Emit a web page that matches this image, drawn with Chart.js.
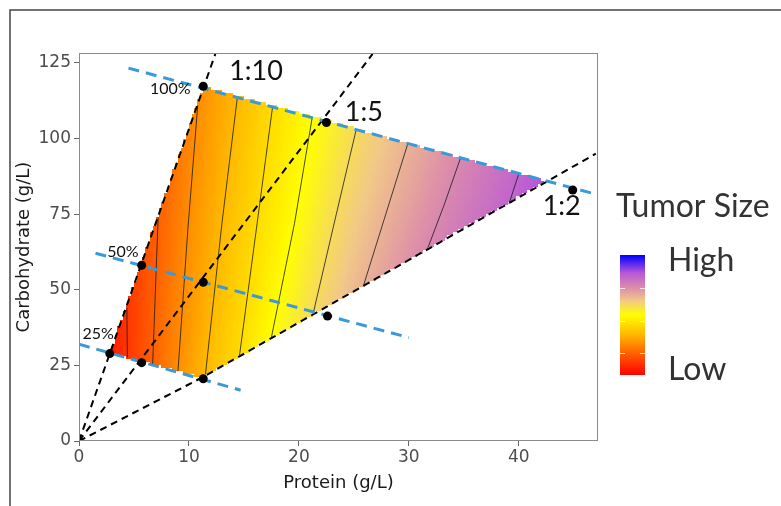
<!DOCTYPE html>
<html>
<head>
<meta charset="utf-8">
<script src="https://cdn.jsdelivr.net/npm/chart.js@4.4.1/dist/chart.umd.min.js"></script>
<style>
  html, body { margin: 0; padding: 0; background: #fff; }
</style>
</head>
<body>
<canvas id="chart" width="781" height="506"></canvas>
<script>
// axis ticks
const xTicks = [0, 10, 20, 30, 40];
const yTicks = [0, 25, 50, 75, 100, 125];

// ratio guide lines from the origin (black dashed)
const ratioNames = ['1:10', '1:5', '1:2'];
const ratioProtein = [[0, 12.4], [0, 26.7], [0, 11.2, 47]];
const ratioCarb = [[0, 128], [0, 128], [0, 21, 95]];
const ratioLabelProtein = [16.1, 25.9, 43.9];
const ratioLabelCarb = [122.3, 108.8, 77.6];

// energy lines (blue dashed)
const energyNames = ['25%', '50%', '100%'];
const energyProtein = [[0, 14.7], [1.5, 30], [4.5, 47.2]];
const energyCarb = [[32, 16.8], [62.1, 34.2], [123.3, 81.4]];
const energyLabelProtein = [1.75, 4.0, 8.3];
const energyLabelCarb = [35.5, 62.7, 116.6];

// diet points
const pointProtein = [0, 2.8, 5.7, 11.3, 5.7, 11.3, 22.6, 11.3, 22.5, 44.9];
const pointCarb = [0, 28.9, 25.9, 20.6, 58.1, 52.5, 41.3, 117.3, 105.3, 83.0];

// area covered by the fitted surface
const regionProtein = [2.8, 11.3, 42.5, 11.2];
const regionCarb = [29, 117.3, 86, 20.8];

// contour lines of tumor size (top to bottom), level on a 0..1 scale
const contourLevel = [0.10, 0.18, 0.26, 0.34, 0.42, 0.50, 0.58, 0.66, 0.74, 0.82];
const contourProtein = [
  [4.35, 4.4], [7.2, 6.95, 6.7], [10.8, 9.9, 9.0], [14.4, 13.0, 11.5], [17.6, 16.2, 14.6],
  [21.2, 19.6, 17.5], [25.2, 23.4, 21.3], [29.9, 27.9, 25.9], [34.7, 33.2, 31.7], [40.0, 39.1]
];
const contourCarb = [
  [44, 27.6], [74, 50, 25.3], [111, 70, 23.1], [113.6, 72, 22], [110.4, 72, 28.4],
  [106.8, 72, 34.3], [102.8, 75, 42.2], [98.3, 75, 51.7], [93.6, 78, 63.6], [88.4, 78.4]
];

// colour scale (Low -> High)
const colorStops = [0, 0.18, 0.33, 0.5, 0.62, 0.72, 0.85, 1];
const colorHex = ['#ff0000', '#ff6000', '#ffb400', '#ffff00', '#f2c888', '#de90a8', '#b858d8', '#0000ff'];

function hexRgb(h) {
  return [parseInt(h.slice(1, 3), 16), parseInt(h.slice(3, 5), 16), parseInt(h.slice(5, 7), 16)];
}
const stopRgb = colorHex.map(hexRgb);

function sizeColor(v) {
  v = Math.max(0, Math.min(1, v));
  let i = 0;
  while (i < colorStops.length - 2 && v > colorStops[i + 1]) i++;
  const t = (v - colorStops[i]) / (colorStops[i + 1] - colorStops[i]);
  const a = stopRgb[i], b = stopRgb[i + 1];
  return 'rgb(' + a.map((c, j) => Math.round(c + t * (b[j] - c))).join(',') + ')';
}

function contourXAt(k, c) {
  const xs = contourProtein[k], ys = contourCarb[k];
  let i = 0;
  for (i = 0; i < ys.length - 2; i++) if (c >= ys[i + 1]) break;
  const t = (c - ys[i]) / (ys[i + 1] - ys[i]);
  return xs[i] + t * (xs[i + 1] - xs[i]);
}

function sizeAt(p, c) {
  const xs = contourLevel.map((_, k) => contourXAt(k, c));
  const L = contourLevel, n = xs.length;
  if (p <= xs[0]) return L[0] - (xs[0] - p) / (xs[1] - xs[0]) * (L[1] - L[0]);
  for (let k = 0; k < n - 1; k++) {
    if (p <= xs[k + 1]) return L[k] + (p - xs[k]) / (xs[k + 1] - xs[k]) * (L[k + 1] - L[k]);
  }
  return L[n - 1] + (p - xs[n - 1]) / (xs[n - 1] - xs[n - 2]) * (L[n - 1] - L[n - 2]);
}

function inRegion(p, c) {
  let inside = false;
  for (let i = 0, j = regionProtein.length - 1; i < regionProtein.length; j = i++) {
    const xi = regionProtein[i], yi = regionCarb[i], xj = regionProtein[j], yj = regionCarb[j];
    if ((yi > c) !== (yj > c) && p < (xj - xi) * (c - yi) / (yj - yi) + xi) inside = !inside;
  }
  return inside;
}

const toXY = (xs, ys) => xs.map((x, i) => ({ x: x, y: ys[i] }));

const datasets = [];
datasets.push({
  data: toXY(pointProtein, pointCarb),
  showLine: false,
  pointRadius: ctx => ctx.dataIndex === 0 ? 2.5 : 4.5,
  pointBackgroundColor: '#000',
  pointBorderWidth: 0,
  order: 0
});
energyProtein.forEach((xs, i) => datasets.push({
  data: toXY(xs, energyCarb[i]),
  showLine: true, pointRadius: 0,
  borderColor: '#3a9ad9', borderWidth: 3, borderDash: [11, 7],
  order: 1
}));
ratioProtein.forEach((xs, i) => datasets.push({
  data: toXY(xs, ratioCarb[i]),
  showLine: true, pointRadius: 0,
  borderColor: '#000', borderWidth: 2, borderDash: [7, 5],
  order: 2
}));
contourProtein.forEach((xs, i) => datasets.push({
  data: toXY(xs, contourCarb[i]),
  showLine: true, pointRadius: 0,
  borderColor: '#1a1a1a', borderWidth: 0.8,
  order: 3
}));

const heatPlugin = {
  id: 'heat',
  beforeDatasetsDraw(chart) {
    const { ctx, chartArea: a, scales: { x, y } } = chart;
    ctx.save();
    ctx.beginPath();
    ctx.rect(a.left, a.top, a.right - a.left, a.bottom - a.top);
    ctx.clip();
    const dp = 0.25, dc = 1;
    for (let p = 2.5; p < 43; p += dp) {
      for (let c = 20; c < 118; c += dc) {
        if (!inRegion(p + dp / 2, c + dc / 2)) continue;
        const x0 = Math.round(x.getPixelForValue(p)), x1 = Math.round(x.getPixelForValue(p + dp));
        const y0 = Math.round(y.getPixelForValue(c + dc)), y1 = Math.round(y.getPixelForValue(c));
        ctx.fillStyle = sizeColor(sizeAt(p + dp / 2, c + dc / 2));
        ctx.fillRect(x0, y0, x1 - x0, y1 - y0);
      }
    }
    ctx.restore();
  }
};

const labelPlugin = {
  id: 'labels',
  afterDatasetsDraw(chart) {
    const { ctx, scales: { x, y } } = chart;
    ctx.save();
    ctx.fillStyle = '#111';
    ctx.textBaseline = 'middle';
    ctx.textAlign = 'center';
    ctx.font = '27px Lato';
    ratioNames.forEach((t, i) => ctx.fillText(t, x.getPixelForValue(ratioLabelProtein[i]), y.getPixelForValue(ratioLabelCarb[i])));
    ctx.font = '16px Lato';
    energyNames.forEach((t, i) => ctx.fillText(t, x.getPixelForValue(energyLabelProtein[i]), y.getPixelForValue(energyLabelCarb[i])));
    ctx.restore();
  },
  afterDraw(chart) {
    const { ctx, chartArea: a } = chart;
    ctx.save();
    // panel border
    ctx.strokeStyle = '#8a8a8a';
    ctx.lineWidth = 1;
    ctx.strokeRect(a.left + 0.5, a.top + 0.5, a.right - a.left - 1, a.bottom - a.top - 1);
    // outer frame
    ctx.strokeStyle = '#444';
    ctx.lineWidth = 1.5;
    ctx.beginPath();
    ctx.moveTo(10, 506);
    ctx.lineTo(10, 10);
    ctx.lineTo(781, 10);
    ctx.stroke();
    // colour bar legend
    const bx = 620, bw = 25, top = 255, bottom = 375;
    const g = ctx.createLinearGradient(0, bottom, 0, top);
    colorStops.forEach((s, i) => g.addColorStop(s, colorHex[i]));
    ctx.fillStyle = g;
    ctx.fillRect(bx, top, bw, bottom - top);
    ctx.strokeStyle = 'rgba(255,255,255,0.8)';
    ctx.lineWidth = 1;
    [0.18, 0.45, 0.725].forEach(t => {
      const yy = Math.round(bottom - t * (bottom - top)) + 0.5;
      ctx.beginPath();
      ctx.moveTo(bx, yy); ctx.lineTo(bx + 5, yy);
      ctx.moveTo(bx + bw - 5, yy); ctx.lineTo(bx + bw, yy);
      ctx.stroke();
    });
    ctx.fillStyle = '#333';
    ctx.textBaseline = 'middle';
    ctx.textAlign = 'left';
    ctx.font = '32px Lato';
    ctx.fillText('Tumor Size', 616, 207);
    ctx.fillText('High', 668, 261);
    ctx.fillText('Low', 668, 370);
    ctx.restore();
  }
};

const fixTicks = values => scale => {
  scale.ticks = values.map(v => ({ value: v }));
};

new Chart(document.getElementById('chart'), {
  type: 'scatter',
  data: { datasets: datasets },
  options: {
    responsive: false,
    animation: false,
    devicePixelRatio: 1,
    layout: { padding: { top: 53, right: 183, left: 0, bottom: 0 } },
    plugins: { legend: { display: false }, tooltip: { enabled: false } },
    scales: {
      x: {
        type: 'linear', min: 0, max: 47.2,
        afterBuildTicks: fixTicks(xTicks),
        afterFit: s => { s.height = 65; },
        ticks: { color: '#4d4d4d', font: { family: 'DejaVu Sans', size: 17 }, padding: 1 },
        grid: { drawOnChartArea: false, tickLength: 5, color: '#666' },
        border: { display: false },
        title: { display: true, text: 'Protein (g/L)', color: '#1a1a1a', font: { family: 'DejaVu Sans', size: 18 }, padding: { top: 0, bottom: 12 } }
      },
      y: {
        type: 'linear', min: 0, max: 128.3,
        afterBuildTicks: fixTicks(yTicks),
        afterFit: s => { s.width = 79; },
        ticks: { color: '#4d4d4d', font: { family: 'DejaVu Sans', size: 17 }, padding: 3 },
        grid: { drawOnChartArea: false, tickLength: 5, color: '#666' },
        border: { display: false },
        title: { display: true, text: 'Carbohydrate (g/L)', color: '#1a1a1a', font: { family: 'DejaVu Sans', size: 18 }, padding: { top: 14, bottom: 0 } }
      }
    }
  },
  plugins: [heatPlugin, labelPlugin]
});
</script>
</body>
</html>
